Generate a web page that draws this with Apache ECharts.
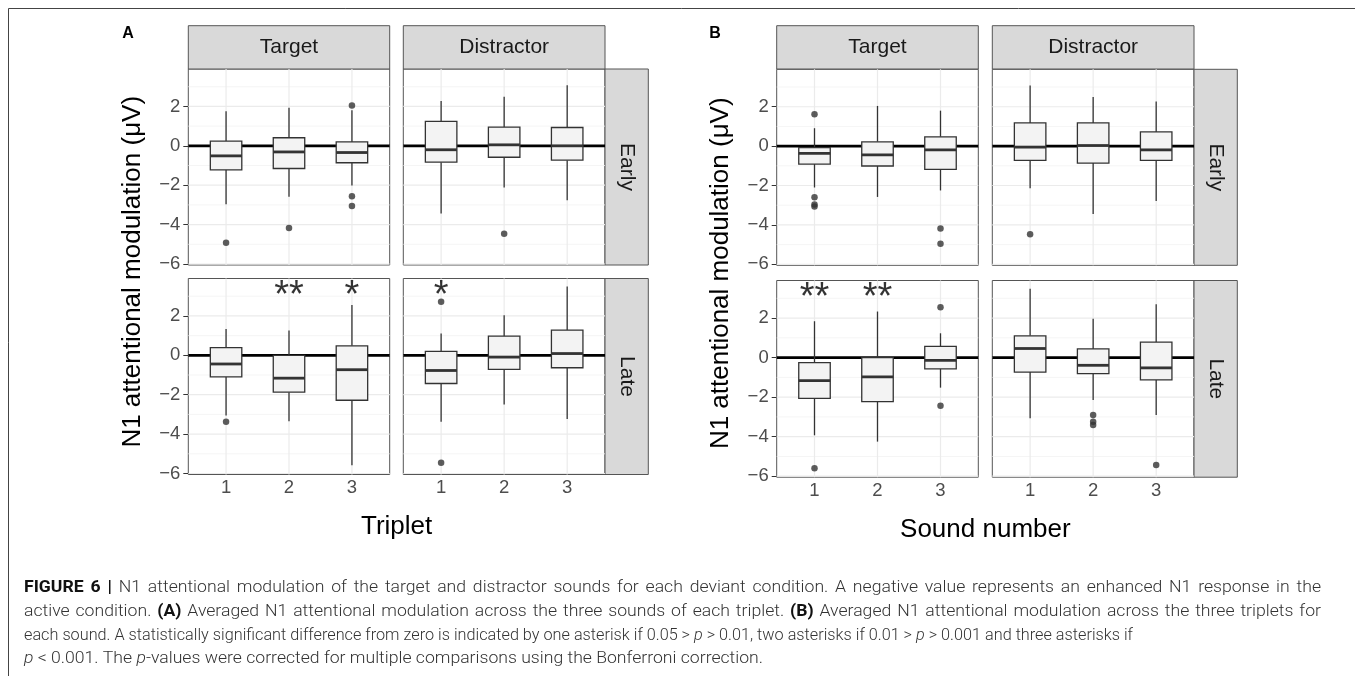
<!DOCTYPE html>
<html><head><meta charset="utf-8">
<script src="https://cdn.jsdelivr.net/npm/echarts@6/dist/echarts.min.js"></script>
<style>html,body{margin:0;padding:0;background:#fff}#c{width:1355px;height:683px}</style>
</head><body><div id="c"></div>
<script>
// ---------- data ----------
const xCategories = ['1', '2', '3'];
const yTicks = [-6, -4, -2, 0, 2];
const yMinorTicks = [-5, -3, -1, 1, 3];
const colLabels = ['Target', 'Distractor'];
const rowLabels = ['Early', 'Late'];
const xTitleA = 'Triplet';
const xTitleB = 'Sound number';
const yTitle = 'N1 attentional modulation (μV)';
const panelTags = ['A', 'B'];

// boxes: [lower whisker, Q1, median, Q3, upper whisker] per category
const A_early_target = [[-2.97, -1.22, -0.51, 0.24, 1.76], [-2.59, -1.15, -0.31, 0.41, 1.93], [-2.02, -0.86, -0.34, 0.20, 1.81]];
const A_early_distr  = [[-3.44, -0.83, -0.20, 1.24, 2.27], [-2.12, -0.58, 0.05, 0.95, 2.49], [-2.76, -0.73, 0.00, 0.93, 3.08]];
const A_late_target  = [[-3.06, -1.09, -0.44, 0.39, 1.34], [-3.35, -1.87, -1.16, 0.00, 1.26], [-5.58, -2.28, -0.73, 0.48, 2.55]];
const A_late_distr   = [[-3.37, -1.43, -0.77, 0.20, 1.11], [-2.50, -0.71, -0.09, 0.97, 2.03], [-3.23, -0.63, 0.09, 1.28, 3.49]];
const B_early_target = [[-2.10, -0.91, -0.37, -0.08, 0.91], [-2.58, -1.01, -0.44, 0.22, 2.04], [-2.25, -1.18, -0.19, 0.47, 1.80]];
const B_early_distr  = [[-2.14, -0.72, -0.05, 1.18, 3.08], [-3.45, -0.86, 0.03, 1.18, 2.49], [-2.78, -0.72, -0.19, 0.72, 2.26]];
const B_late_target  = [[-3.93, -2.06, -1.16, -0.25, 1.84], [-4.25, -2.23, -0.98, 0.00, 2.33], [-1.52, -0.57, -0.14, 0.57, 1.23]];
const B_late_distr   = [[-3.07, -0.73, 0.46, 1.10, 3.48], [-2.14, -0.81, -0.39, 0.44, 1.96], [-2.90, -1.13, -0.52, 0.78, 2.70]];

// outliers: [category, value]
const A_early_target_out = [['1', -4.92], ['2', -4.17], ['3', 2.05], ['3', -2.56], ['3', -3.05]];
const A_early_distr_out  = [['2', -4.46]];
const A_late_target_out  = [['1', -3.37]];
const A_late_distr_out   = [['1', 2.72], ['1', -5.45]];
const B_early_target_out = [['1', 1.62], ['1', -2.59], ['1', -2.96], ['1', -3.06], ['3', -4.18], ['3', -4.95]];
const B_early_distr_out  = [['1', -4.48]];
const B_late_target_out  = [['1', -5.60], ['3', 2.55], ['3', -2.43]];
const B_late_distr_out   = [['2', -2.90], ['2', -3.24], ['2', -3.41], ['3', -5.43]];

// significance markers: [category, text]
const A_late_target_sig = [['2', '**'], ['3', '*']];
const A_late_distr_sig  = [['1', '*']];
const B_late_target_sig = [['1', '**'], ['2', '**']];
const sigLevel = 3.42;

const captionLines = [
  [{t: 'FIGURE 6 | ', w: 'bold'}, {t: 'N1 attentional modulation of the target and distractor sounds for each deviant condition. A negative value represents an enhanced N1 response in the'}],
  [{t: 'active condition. '}, {t: '(A)', w: 'bold'}, {t: ' Averaged N1 attentional modulation across the three sounds of each triplet. '}, {t: '(B)', w: 'bold'}, {t: ' Averaged N1 attentional modulation across the three triplets for'}],
  [{t: 'each sound. A statistically significant difference from zero is indicated by one asterisk if 0.05 > '}, {t: 'p', s: 'italic'}, {t: ' > 0.01, two asterisks if 0.01 > '}, {t: 'p', s: 'italic'}, {t: ' > 0.001 and three asterisks if'}],
  [{t: 'p', s: 'italic'}, {t: ' < 0.001. The '}, {t: 'p', s: 'italic'}, {t: '-values were corrected for multiple comparisons using the Bonferroni correction.'}]
];

// ---------- layout ----------
const FONT = '"Liberation Sans", Arial, Helvetica, sans-serif';
const layout = {
  A: {cols: [[188.3, 201.4], [403.3, 201.7]], rows: [[69, 196], [278.5, 196]], strip: 605, tagX: 128, yTitleX: 133, xTitleY: 527},
  B: {cols: [[776.7, 201.6], [992.3, 201.7]], rows: [[69.3, 196], [280.5, 196.7]], strip: 1194, tagX: 715, yTitleX: 721, xTitleY: 530}
};
const stripTop = 25.7, stripH = 43.3, stripW = 43.3;

const panels = [
  {fig: 'A', r: 0, c: 0, box: A_early_target, out: A_early_target_out, sig: []},
  {fig: 'A', r: 0, c: 1, box: A_early_distr, out: A_early_distr_out, sig: []},
  {fig: 'A', r: 1, c: 0, box: A_late_target, out: A_late_target_out, sig: A_late_target_sig},
  {fig: 'A', r: 1, c: 1, box: A_late_distr, out: A_late_distr_out, sig: A_late_distr_sig},
  {fig: 'B', r: 0, c: 0, box: B_early_target, out: B_early_target_out, sig: []},
  {fig: 'B', r: 0, c: 1, box: B_early_distr, out: B_early_distr_out, sig: []},
  {fig: 'B', r: 1, c: 0, box: B_late_target, out: B_late_target_out, sig: B_late_target_sig},
  {fig: 'B', r: 1, c: 1, box: B_late_distr, out: B_late_distr_out, sig: []}
];

const fmtY = v => v < 0 ? '\u2212' + Math.abs(v) : String(v);
const xNums = xCategories.map(Number);

const grids = [], xAxes = [], yAxes = [], series = [];
panels.forEach((p, i) => {
  const L = layout[p.fig];
  const [left, width] = L.cols[p.c];
  const [top, height] = L.rows[p.r];
  const bottom = p.r === 1, leftCol = p.c === 0;
  grids.push({left, top, width, height, show: true, backgroundColor: '#fff', borderColor: '#555', borderWidth: 1, containLabel: false});
  xAxes.push({
    gridIndex: i, type: 'value', min: 0.4, max: 3.6,
    axisLine: {show: false}, splitLine: {show: false},
    axisTick: {show: bottom, length: 5, customValues: xNums, lineStyle: {color: '#333', width: 1}},
    axisLabel: {show: bottom, customValues: xNums, margin: 4, fontSize: 18.5, color: '#4d4d4d', fontFamily: FONT,
      formatter: v => xCategories[xNums.indexOf(v)] || ''}
  });
  yAxes.push({
    gridIndex: i, type: 'value', min: -6.05, max: 3.9,
    axisLine: {show: false}, splitLine: {show: false},
    axisTick: {show: leftCol, length: 5, customValues: yTicks, lineStyle: {color: '#333', width: 1}},
    axisLabel: {show: leftCol, customValues: yTicks, margin: 8, fontSize: 18.5, color: '#4d4d4d', fontFamily: FONT, formatter: fmtY}
  });
  // grid lines + zero line
  const gl = [];
  yMinorTicks.forEach(v => gl.push([0, v, 0]));
  yTicks.forEach(v => gl.push([0, v, 1]));
  xNums.forEach(v => gl.push([1, v, 1]));
  gl.push([2, 0, 1]);
  series.push({
    type: 'custom', xAxisIndex: i, yAxisIndex: i, silent: true, z: 1, clip: false,
    data: gl,
    renderItem: (params, api) => {
      const cs = params.coordSys;
      const o = api.value(0), v = api.value(1), major = api.value(2);
      if (o === 1) {
        const x = api.coord([v, 0])[0];
        return {type: 'line', shape: {x1: x, y1: cs.y, x2: x, y2: cs.y + cs.height}, style: {stroke: '#ebebeb', lineWidth: 1.2}};
      }
      const y = api.coord([1, v])[1];
      if (o === 2) return {type: 'line', z2: 5, shape: {x1: cs.x, y1: y, x2: cs.x + cs.width, y2: y}, style: {stroke: '#000', lineWidth: 2.8}};
      return {type: 'line', shape: {x1: cs.x, y1: y, x2: cs.x + cs.width, y2: y}, style: {stroke: major ? '#ebebeb' : '#f2f2f2', lineWidth: major ? 1.2 : 0.8}};
    }
  });
  // boxes
  series.push({
    type: 'custom', xAxisIndex: i, yAxisIndex: i, silent: true, z: 3,
    data: p.box.map((b, k) => [xNums[k]].concat(b)),
    encode: {x: 0, y: [1, 2, 3, 4, 5]},
    renderItem: (params, api) => {
      const cx = api.value(0);
      const pLo = api.coord([cx, api.value(1)]);
      const pQ1 = api.coord([cx, api.value(2)]);
      const pMd = api.coord([cx, api.value(3)]);
      const pQ3 = api.coord([cx, api.value(4)]);
      const pHi = api.coord([cx, api.value(5)]);
      const bw = api.size([0.5, 0])[0];
      const x = pMd[0];
      const st = {stroke: '#333', lineWidth: 1.3};
      return {type: 'group', children: [
        {type: 'line', shape: {x1: x, y1: pHi[1], x2: x, y2: pQ3[1]}, style: st},
        {type: 'line', shape: {x1: x, y1: pQ1[1], x2: x, y2: pLo[1]}, style: st},
        {type: 'rect', shape: {x: x - bw / 2, y: pQ3[1], width: bw, height: pQ1[1] - pQ3[1]}, style: {fill: '#f3f3f3', stroke: '#333', lineWidth: 1.3}},
        {type: 'line', shape: {x1: x - bw / 2, y1: pMd[1], x2: x + bw / 2, y2: pMd[1]}, style: {stroke: '#333', lineWidth: 2.8}}
      ]};
    }
  });
  // outliers
  series.push({
    type: 'scatter', xAxisIndex: i, yAxisIndex: i, silent: true, z: 4,
    symbolSize: 6.5, itemStyle: {color: '#333'},
    data: p.out.map(([c, v]) => [Number(c), v])
  });
  if (p.sig.length) {
    series.push({
      type: 'scatter', xAxisIndex: i, yAxisIndex: i, silent: true, z: 5, symbolSize: 0,
      data: p.sig.map(([c, t]) => ({value: [Number(c), sigLevel], label: {formatter: t}})),
      label: {show: true, position: 'inside', offset: [0, 9], fontSize: 38, color: '#000', fontFamily: FONT}
    });
  }
});

// ---------- graphics ----------
const graphic = [];
graphic.push({type: 'line', shape: {x1: 8.5, y1: 8.5, x2: 1355, y2: 8.5}, style: {stroke: '#444', lineWidth: 1}});
graphic.push({type: 'line', shape: {x1: 8.5, y1: 8.5, x2: 8.5, y2: 676}, style: {stroke: '#444', lineWidth: 1}});

function txt(x, y, text, opt) {
  const o = Object.assign({size: 18, color: '#1a1a1a', weight: 'normal', rot: 0, align: 'center', va: 'middle', family: FONT}, opt || {});
  return {type: 'text', x, y, rotation: o.rot, silent: true,
    style: {text, fontSize: o.size, fontFamily: o.family, fontWeight: o.weight, fill: o.color,
      align: o.align, verticalAlign: o.va, textAlign: o.align, textVerticalAlign: o.va}};
}

panelTags.forEach(f => {
  const L = layout[f];
  L.cols.forEach(([x, w], c) => {
    graphic.push({type: 'rect', shape: {x, y: stripTop, width: w, height: stripH}, style: {fill: '#d9d9d9', stroke: '#555', lineWidth: 1}});
    graphic.push(txt(x + w / 2, stripTop + stripH / 2, colLabels[c], {size: 21}));
  });
  L.rows.forEach(([y, h], r) => {
    graphic.push({type: 'rect', shape: {x: L.strip, y, width: stripW, height: h}, style: {fill: '#d9d9d9', stroke: '#555', lineWidth: 1}});
    graphic.push(txt(L.strip + stripW / 2, y + h / 2, rowLabels[r], {size: 21, rot: -Math.PI / 2}));
  });
  graphic.push(txt(L.tagX, 33.5, f, {size: 16, weight: 'bold', color: '#000'}));
  const yTop = L.rows[0][0], yBot = L.rows[1][0] + L.rows[1][1];
  graphic.push(txt(L.yTitleX, (yTop + yBot) / 2, yTitle, {size: 26, color: '#000', rot: Math.PI / 2}));
  const xl = L.cols[0][0], xr = L.cols[1][0] + L.cols[1][1];
  graphic.push(txt((xl + xr) / 2, L.xTitleY, f === 'A' ? xTitleA : xTitleB, {size: 26, color: '#000'}));
});

// caption: condensed via horizontal scale; lines 1-2 justified, lines 3-4 fitted to their measured extents
const CAP_FAMILY = 'Roboto, "Liberation Sans", sans-serif';
const CAP_SIZE = 16.5;
const capX = 24, capY = [588, 611.7, 635.4, 659];
const capRight = [1321, 1321, 1133, 763];
const capJustify = [true, true, false, false];
const mctx = document.createElement('canvas').getContext('2d');
const capItems = captionLines.map(segs => {
  const items = [];
  segs.forEach(s => {
    s.t.split(/( )/).forEach(pt => {
      if (pt === '') return;
      const w = s.w || '300', st = s.s || 'normal';
      mctx.font = `${st} ${w} ${CAP_SIZE}px ${CAP_FAMILY}`;
      items.push({t: pt, w, st, bold: !!s.w, space: pt === ' ', width: mctx.measureText(pt).width});
    });
  });
  return items;
});
const naturals = capItems.map(items => items.reduce((a, b) => a + b.width, 0));
const fitScales = naturals.map((n, i) => (capRight[i] - capX) / n);
const meanScale = fitScales.reduce((a, b) => a + b, 0) / fitScales.length;
capItems.forEach((items, li) => {
  const scale = capJustify[li] ? Math.min(meanScale, fitScales[li]) : fitScales[li];
  const nSpaces = items.filter(it => it.space).length;
  let extra = 0;
  if (capJustify[li]) extra = Math.max(0, ((capRight[li] - capX) / scale - naturals[li]) / nSpaces);
  let off = 0;
  const children = [];
  items.forEach(it => {
    if (!it.space) {
      children.push({type: 'text', x: off, y: 0, silent: true,
        style: {text: it.t, fontSize: CAP_SIZE, fontFamily: CAP_FAMILY, fontWeight: it.w, fontStyle: it.st,
          fill: it.bold ? '#111' : '#333', align: 'left', verticalAlign: 'middle', textAlign: 'left', textVerticalAlign: 'middle'}});
      off += it.width;
    } else {
      off += it.width + extra;
    }
  });
  graphic.push({type: 'group', x: capX, y: capY[li], scaleX: scale, scaleY: 1, children});
});

const chart = echarts.init(document.getElementById('c'), null, {renderer: 'canvas'});
chart.setOption({
  animation: false,
  backgroundColor: '#fff',
  grid: grids, xAxis: xAxes, yAxis: yAxes, series, graphic
});
</script></body></html>
